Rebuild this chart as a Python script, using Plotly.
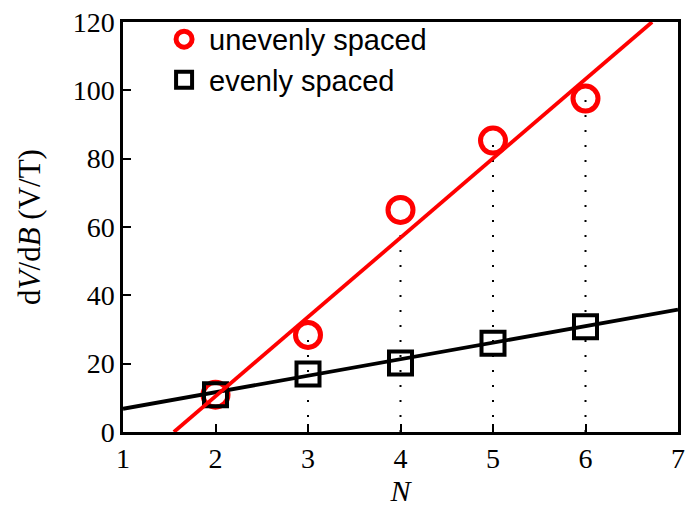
import plotly.graph_objects as go

# Data
N = [2, 3, 4, 5, 6]
uneven = [10.9, 28.4, 65.0, 85.3, 97.6]
even = [10.9, 17.0, 20.2, 26.0, 30.8]

# Fit-line endpoints
red_fit_x = [1.55, 6.72]
red_fit_y = [0, 120]
black_fit_x = [1, 7]
black_fit_y = [6.8, 35.8]

# Dotted guide lines (x, from, to)
guide_x = [3, 4, 5, 6]
guide_top = [28.4, 65.0, 85.3, 97.6]

fig = go.Figure()

for gx, gt in zip(guide_x, guide_top):
    fig.add_trace(go.Scatter(x=[gx, gx], y=[0, gt], mode="lines",
                             line=dict(color="black", width=2, dash="2px,13px"),
                             showlegend=False, hoverinfo="skip"))

fig.add_trace(go.Scatter(x=N, y=uneven, mode="markers", name="unevenly spaced",
                         marker=dict(symbol="circle-open", size=25, color="#ff0000",
                                     line=dict(width=5, color="#ff0000"))))
fig.add_trace(go.Scatter(x=N, y=even, mode="markers", name="evenly spaced",
                         marker=dict(symbol="square-open", size=23, color="black",
                                     line=dict(width=4, color="black"))))
fig.add_trace(go.Scatter(x=black_fit_x, y=black_fit_y, mode="lines",
                         line=dict(color="black", width=3.8), showlegend=False))
fig.add_trace(go.Scatter(x=red_fit_x, y=red_fit_y, mode="lines",
                         line=dict(color="#ff0000", width=3.8), showlegend=False))

serif = "Liberation Serif, Times New Roman, serif"

fig.update_layout(
    width=685, height=512,
    margin=dict(l=123, r=7, t=22, b=80),
    paper_bgcolor="white", plot_bgcolor="white",
    font=dict(family=serif, size=28, color="black"),
    legend=dict(x=0.065, y=1.02, xanchor="left", yanchor="top",
                bgcolor="rgba(0,0,0,0)",
                font=dict(family="Liberation Sans, Arial, sans-serif", size=29),
                itemwidth=40, tracegroupgap=0),
    xaxis=dict(range=[1, 7], tickvals=[1, 2, 3, 4, 5, 6, 7], automargin=False,
               ticks="inside", ticklen=8, tickwidth=2, tickcolor="black",
               showline=True, linewidth=2.5, linecolor="black", mirror=True,
               showgrid=False, zeroline=False,
               tickfont=dict(family=serif, size=28),
               title=dict(text="<i>N</i>", font=dict(family=serif, size=30), standoff=6)),
    yaxis=dict(range=[0, 120], tickvals=[0, 20, 40, 60, 80, 100, 120], automargin=False,
               ticks="inside", ticklen=8, tickwidth=2, tickcolor="black",
               showline=True, linewidth=2.5, linecolor="black", mirror=True,
               showgrid=False, zeroline=False,
               tickfont=dict(family=serif, size=28),
               title=dict(text="d<i>V</i>/d<i>B</i> (V/T)", font=dict(family=serif, size=31),
                          standoff=23)),
)

fig.write_html("out.html", config={"displayModeBar": False},
               post_script="document.body.style.margin='0';")
